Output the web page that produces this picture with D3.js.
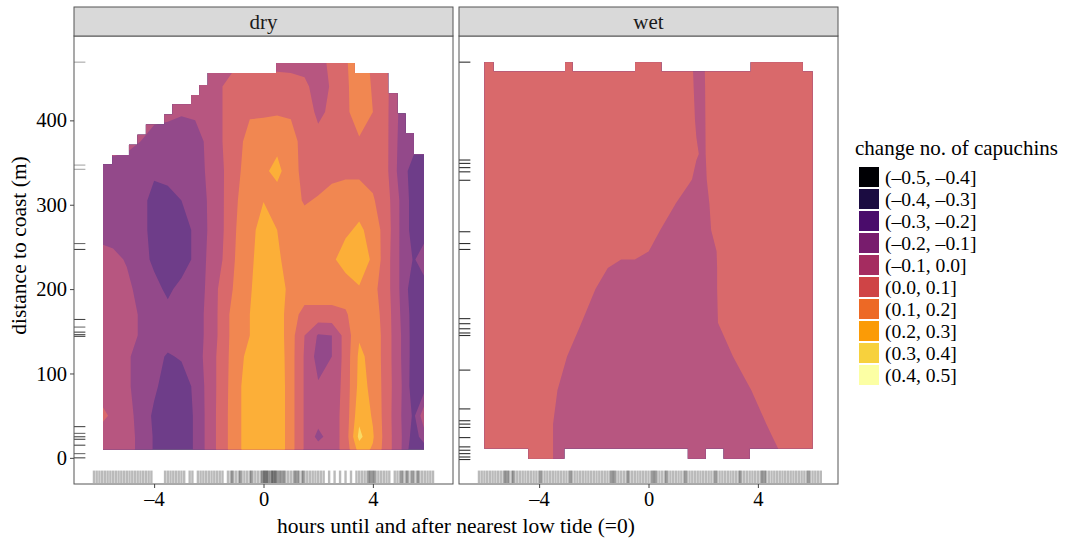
<!DOCTYPE html>
<html>
<head>
<meta charset="utf-8">
<script src="https://cdn.jsdelivr.net/npm/d3@7"></script>
<style>
  html, body { margin: 0; padding: 0; background: #fff; }
  text { font-family: "Liberation Serif", "Times New Roman", serif; }
</style>
</head>
<body>
<svg id="chart" width="1065" height="539"></svg>
<script>
// contour breaks (legend bins)
const breaks = [-0.5, -0.4, -0.3, -0.2, -0.1, 0.0, 0.1, 0.2, 0.3, 0.4, 0.5];

// ---- dry season grid: columns = hours, rows = distance (bottom -> top)
const dryHours = [-5.87, -5.5, -5, -4.5, -4, -3.5, -3, -2.5, -2, -1.5, -1, -0.5, 0, 0.5, 1, 1.5, 2, 2.5, 3, 3.5, 4, 4.5, 5, 5.5, 5.87];
const dryDist = [10, 25, 50, 85, 120, 145, 170, 200, 235, 270, 305, 340, 375, 410, 440, 468];
const dryChange = [
  [-0.05, -0.05, -0.07, -0.12, -0.21, -0.25, -0.25, -0.19, -0.06, 0.055, 0.17, 0.25, 0.27, 0.28, 0.14, -0.01, -0.05, -0.05, 0.04, 0.24, 0.19, 0.05, -0.08, -0.28, -0.25],
  [-0.05, -0.04, -0.07, -0.12, -0.21, -0.25, -0.25, -0.19, -0.06, 0.055, 0.17, 0.25, 0.27, 0.28, 0.14, -0.01, -0.13, -0.05, 0.04, 0.33, 0.21, 0.05, -0.08, -0.25, -0.15],
  [0.02, -0.02, -0.07, -0.13, -0.22, -0.25, -0.25, -0.19, -0.06, 0.055, 0.17, 0.25, 0.27, 0.28, 0.14, -0.01, -0.05, -0.05, 0.04, 0.27, 0.19, 0.05, -0.09, -0.22, -0.03],
  [-0.05, -0.05, -0.08, -0.15, -0.18, -0.25, -0.25, -0.18, -0.06, 0.05, 0.17, 0.25, 0.27, 0.28, 0.14, -0.01, -0.09, -0.07, 0.04, 0.23, 0.18, 0.05, -0.08, -0.26, -0.25],
  [-0.05, -0.05, -0.08, -0.15, -0.17, -0.21, -0.19, -0.15, -0.06, 0.05, 0.16, 0.23, 0.27, 0.27, 0.14, -0.01, -0.14, -0.10, 0.04, 0.22, 0.17, 0.05, -0.09, -0.25, -0.25],
  [-0.05, -0.05, -0.06, -0.11, -0.15, -0.16, -0.16, -0.15, -0.07, 0.04, 0.16, 0.20, 0.26, 0.26, 0.14, 0.00, -0.11, -0.10, 0.04, 0.19, 0.17, 0.05, -0.09, -0.25, -0.25],
  [-0.05, -0.05, -0.06, -0.11, -0.15, -0.17, -0.17, -0.15, -0.07, 0.04, 0.16, 0.20, 0.26, 0.26, 0.14, 0.07, 0.07, 0.07, 0.09, 0.15, 0.15, 0.05, -0.10, -0.25, -0.25],
  [-0.05, -0.05, -0.07, -0.14, -0.17, -0.22, -0.17, -0.15, -0.08, 0.04, 0.12, 0.19, 0.26, 0.25, 0.17, 0.15, 0.15, 0.15, 0.14, 0.19, 0.13, 0.04, -0.11, -0.27, -0.25],
  [-0.06, -0.07, -0.11, -0.16, -0.22, -0.25, -0.25, -0.18, -0.08, 0.00, 0.11, 0.18, 0.25, 0.22, 0.15, 0.15, 0.15, 0.18, 0.25, 0.27, 0.18, 0.04, -0.11, -0.21, -0.14],
  [-0.14, -0.15, -0.16, -0.18, -0.22, -0.25, -0.25, -0.18, -0.09, -0.01, 0.10, 0.17, 0.24, 0.20, 0.15, 0.15, 0.15, 0.16, 0.18, 0.22, 0.16, 0.05, -0.11, -0.25, -0.25],
  [-0.16, -0.16, -0.17, -0.18, -0.22, -0.23, -0.20, -0.16, -0.09, -0.01, 0.09, 0.17, 0.198, 0.15, 0.14, 0.09, 0.11, 0.14, 0.15, 0.15, 0.11, 0.04, -0.11, -0.25, -0.25],
  [-0.15, -0.15, -0.15, -0.16, -0.19, -0.17, -0.16, -0.15, -0.08, -0.01, 0.08, 0.14, 0.18, 0.23, 0.14, 0.07, 0.05, 0.07, 0.08, 0.08, 0.07, 0.02, -0.14, -0.25, -0.25],
  [-0.05, -0.05, -0.07, -0.10, -0.15, -0.16, -0.16, -0.15, -0.07, 0.00, 0.07, 0.13, 0.14, 0.17, 0.13, 0.07, 0.03, 0.06, 0.08, 0.09, 0.09, 0.02, -0.13, -0.16, -0.16],
  [-0.05, -0.05, -0.05, -0.05, -0.06, -0.07, -0.09, -0.08, -0.04, 0.00, 0.05, 0.09, 0.09, 0.09, 0.09, 0.05, -0.02, 0.02, 0.08, 0.15, 0.10, 0.02, -0.12, -0.15, -0.15],
  [-0.05, -0.05, -0.05, -0.05, -0.05, -0.05, -0.05, -0.05, -0.04, 0.00, 0.05, 0.06, 0.06, 0.05, 0.04, 0.02, -0.04, 0.01, 0.08, 0.16, 0.09, 0.01, -0.05, -0.10, -0.10],
  [-0.05, -0.05, -0.05, -0.05, -0.05, -0.05, -0.05, -0.05, -0.05, -0.01, -0.01, -0.01, -0.02, -0.03, -0.03, -0.03, -0.03, 0.02, 0.09, 0.15, 0.08, 0.00, -0.05, -0.10, -0.10]
];
// extent of the dry grid (cells with data)
const dryTopX = [-5.87, -5.53, -4.92, -4.61, -4.3, -3.63, -3.33, -2.65, -2.35, -2.04, 0.46, 3.34, 4.56, 4.9, 5.2, 5.5, 5.87];
const dryTopY = [348, 359, 371, 383, 395, 407, 419, 430, 442, 456, 468, 456, 432, 408, 385, 360];
const dryBottomX = [-5.87, 5.87];
const dryBottomY = [10];

// ---- wet season grid
const wetHours = [-6, -5.5, -5, -4.5, -4, -3.5, -3, -2.5, -2, -1.5, -1, -0.5, 0, 0.5, 1, 1.5, 1.75, 2, 2.25, 2.5, 3, 3.5, 4, 4.5, 5, 5.5, 6];
const wetDist = [-1, 11, 40, 80, 120, 160, 200, 225, 245, 270, 300, 330, 360, 400, 440, 458, 469];
const wetChange = [
  [.05, .05, .05, .05, .05, .001, -.049, -.05, -.05, -.05, -.05, -.05, -.05, -.05, -.05, -.05, -.05, -.05, -.05, -.05, -.05, -.05, -.05, -.024, .026, .05, .05],
  [.05, .05, .05, .05, .05, .001, -.049, -.05, -.05, -.05, -.05, -.05, -.05, -.05, -.05, -.05, -.05, -.05, -.05, -.05, -.05, -.05, -.05, -.024, .026, .05, .05],
  [.05, .05, .05, .05, .05, .001, -.049, -.05, -.05, -.05, -.05, -.05, -.05, -.05, -.05, -.05, -.05, -.05, -.05, -.05, -.05, -.05, -.031, .019, .05, .05, .05],
  [.05, .05, .05, .05, .05, .017, -.033, -.05, -.05, -.05, -.05, -.05, -.05, -.05, -.05, -.05, -.05, -.05, -.05, -.05, -.05, -.026, .024, .05, .05, .05, .05],
  [.05, .05, .05, .05, .05, .05, .002, -.048, -.05, -.05, -.05, -.05, -.05, -.05, -.05, -.05, -.05, -.05, -.05, -.05, -.009, .041, .05, .05, .05, .05, .05],
  [.05, .05, .05, .05, .05, .05, .05, .005, -.045, -.05, -.05, -.05, -.05, -.05, -.05, -.05, -.05, -.05, -.029, -.004, .046, .05, .05, .05, .05, .05, .05],
  [.05, .05, .05, .05, .05, .05, .05, .05, .006, -.044, -.05, -.05, -.05, -.05, -.05, -.05, -.05, -.05, -.026, -.001, .049, .05, .05, .05, .05, .05, .05],
  [.05, .05, .05, .05, .05, .05, .05, .05, .05, .001, -.05, -.05, -.05, -.05, -.05, -.05, -.05, -.05, -.025, -.001, .05, .05, .05, .05, .05, .05, .05],
  [.05, .05, .05, .05, .05, .05, .05, .05, .05, .05, .05, .05, .001, -.05, -.05, -.05, -.05, -.049, -.024, .001, .05, .05, .05, .05, .05, .05, .05],
  [.05, .05, .05, .05, .05, .05, .05, .05, .05, .05, .05, .05, .043, -.007, -.05, -.05, -.05, -.029, -.004, .021, .05, .05, .05, .05, .05, .05, .05],
  [.05, .05, .05, .05, .05, .05, .05, .05, .05, .05, .05, .05, .05, .047, -.003, -.05, -.048, -.023, .002, .027, .05, .05, .05, .05, .05, .05, .05],
  [.05, .05, .05, .05, .05, .05, .05, .05, .05, .05, .05, .05, .05, .05, .05, .009, -.016, -.013, .012, .037, .05, .05, .05, .05, .05, .05, .05],
  [.05, .05, .05, .05, .05, .05, .05, .05, .05, .05, .05, .05, .05, .05, .05, .03, .005, -.009, .016, .041, .05, .05, .05, .05, .05, .05, .05],
  [.05, .05, .05, .05, .05, .05, .05, .05, .05, .05, .05, .05, .05, .05, .05, .02, -.005, -.008, .017, .042, .05, .05, .05, .05, .05, .05, .05],
  [.05, .05, .05, .05, .05, .05, .05, .05, .05, .05, .05, .05, .05, .05, .05, .015, -.01, -.007, .018, .043, .05, .05, .05, .05, .05, .05, .05],
  [.05, .05, .05, .05, .05, .05, .05, .05, .05, .05, .05, .05, .05, .05, .05, .013, -.012, -.006, .019, .044, .05, .05, .05, .05, .05, .05, .05],
  [.05, .05, .05, .05, .05, .05, .05, .05, .05, .05, .05, .05, .05, .05, .05, .013, -.012, -.006, .019, .044, .05, .05, .05, .05, .05, .05, .05]
];
const wetTopX = [-6, -5.67, -3.05, -2.78, -0.49, 0.47, 3.74, 5.64, 6];
const wetTopY = [469, 458, 469, 458, 469, 458, 469, 458];
const wetBottomX = [-6, -4.39, -3.08, 1.44, 2.09, 2.75, 3.7, 6];
const wetBottomY = [11, -1, 11, -1, 11, -1, 11];

// ---- rugs: observed distances (with how many overlap) and observed hours
const dryRugDist = [469, 347, 342, 254, 247, 164, 155, 149, 146, 144, 37, 29, 25, 22, 15, 5, 0];
const dryRugCount = [1, 1, 1, 2, 3, 3, 2, 3, 3, 3, 3, 2, 3, 3, 3, 2, 3];
const wetRugDist = [469, 353, 349, 344, 339, 329, 268, 254, 247, 165, 159, 153, 148, 145, 104, 58, 44, 40, 36, 24, 13, 9, 5, 1, -2];
const wetRugCount = [4, 4, 4, 4, 4, 4, 4, 4, 4, 4, 4, 4, 4, 4, 4, 4, 4, 4, 4, 4, 4, 4, 4, 4, 4];
const dryRugHours = [-6.2, -6.1, -6.0, -5.9, -5.8, -5.7, -5.6, -5.5, -5.4, -5.3, -5.2, -5.1, -5.0, -4.9, -4.8, -4.7, -4.6, -4.5, -4.4, -4.3, -4.2, -4.1, -3.6, -3.5, -3.4, -3.3, -3.2, -3.1, -3.0, -2.9, -2.7, -2.6, -2.4, -2.3, -2.2, -2.1, -2.0, -1.9, -1.8, -1.7, -1.6, -1.5, -1.3, -1.2, -1.1, -1.0, -0.9, -0.8, -0.7, -0.6, -0.5, -0.4, -0.3, -0.2, -0.1, 0.0, 0.1, 0.2, 0.3, 0.4, 0.5, 0.6, 0.7, 0.8, 0.9, 1.0, 1.1, 1.2, 1.3, 1.4, 1.5, 1.6, 1.7, 1.8, 1.9, 2.0, 2.1, 2.2, 2.4, 2.6, 2.8, 3.0, 3.2, 3.4, 3.5, 3.6, 3.7, 3.8, 3.9, 4.0, 4.1, 4.2, 4.3, 4.4, 4.5, 4.6, 4.8, 4.9, 5.0, 5.1, 5.2, 5.3, 5.4, 5.5, 5.6, 5.7, 5.8, 5.9, 6.0, 6.1, 6.2,
  -0.05, 0.05, 0.15, 0.25, 0.35, 0.45, 0.55, 0.65, 0.75, 0.02, 0.12, 0.32, 0.42, 3.85, 3.95, 4.05, 1.25, 1.15, 1.45, -1.15, -0.85, -0.45, 5.05, 5.25, 5.45, 5.65];
const wetRugHours = [-6.2, -6.1, -6.0, -5.9, -5.8, -5.7, -5.6, -5.5, -5.4, -5.3, -5.2, -5.1, -5.0, -4.9, -4.8, -4.7, -4.6, -4.5, -4.4, -4.3, -4.2, -4.1, -4.0, -3.9, -3.8, -3.7, -3.6, -3.5, -3.4, -3.3, -3.2, -3.1, -3.0, -2.9, -2.8, -2.7, -2.6, -2.5, -2.4, -2.3, -2.2, -2.1, -2.0, -1.9, -1.8, -1.7, -1.6, -1.5, -1.4, -1.3, -1.2, -1.1, -1.0, -0.9, -0.8, -0.7, -0.6, -0.5, -0.4, -0.3, -0.2, -0.1, 0.0, 0.1, 0.2, 0.3, 0.4, 0.5, 0.6, 0.7, 0.8, 0.9, 1.0, 1.1, 1.2, 1.3, 1.4, 1.5, 1.6, 1.7, 1.8, 1.9, 2.0, 2.1, 2.2, 2.3, 2.4, 2.5, 2.6, 2.7, 2.8, 2.9, 3.0, 3.1, 3.2, 3.3, 3.4, 3.5, 3.6, 3.7, 3.8, 3.9, 4.0, 4.1, 4.2, 4.3, 4.4, 4.5, 4.6, 4.7, 4.8, 4.9, 5.0, 5.1, 5.2, 5.3, 5.4, 5.5, 5.6, 5.7, 5.8, 5.9, 6.0, 6.1, 6.2, 6.3,
  -5.15, -5.25, -3.95, -2.85, -1.25, -1.35, 0.15, 0.25, 1.35, 2.45, 4.15, 4.25, 5.85, -4.95, -0.75, 0.65, 3.35];

const yTicks = [0, 100, 200, 300, 400];
const xTicks = [-4, 0, 4];

const svg = d3.select("#chart");
const stripTop = 7, panelTop = 36, panelBottom = 484, panelW = 379;
const y = d3.scaleLinear().domain([-31, 500]).range([panelBottom, panelTop]);
const xBase = d3.scaleLinear().domain([-6.93, 6.93]);
const dash = s => s.replace(/[-\u2212]/g, "\u2013");
const fmt1 = d3.format(".1f");

// band colour: inferno with alpha 0.8 over white (flattened so bands don't stack)
const bandColor = i => d3.interpolateRgb("#ffffff", d3.interpolateInferno(i / 9))(0.8);

const panels = [
  { name: "dry", left: 74, hours: dryHours, dist: dryDist, grid: dryChange,
    topX: dryTopX, topY: dryTopY, botX: dryBottomX, botY: dryBottomY,
    rugDist: dryRugDist, rugCount: dryRugCount, rugHours: dryRugHours },
  { name: "wet", left: 459, hours: wetHours, dist: wetDist, grid: wetChange,
    topX: wetTopX, topY: wetTopY, botX: wetBottomX, botY: wetBottomY,
    rugDist: wetRugDist, rugCount: wetRugCount, rugHours: wetRugHours }
];

const defs = svg.append("defs");

panels.forEach(p => {
  const x = xBase.copy().range([p.left, p.left + panelW]);
  const g = svg.append("g");

  // outline of the cells that hold data
  const outline = [];
  p.topX.slice(0, -1).forEach((v, k) => {
    outline.push([v, p.topY[k]], [p.topX[k + 1], p.topY[k]]);
  });
  for (let k = p.botY.length - 1; k >= 0; k--) {
    outline.push([p.botX[k + 1], p.botY[k]], [p.botX[k], p.botY[k]]);
  }
  defs.append("clipPath").attr("id", "clip-" + p.name)
    .append("path")
    .attr("d", d3.line().x(d => x(d[0])).y(d => y(d[1]))(outline) + "Z");

  // filled contours
  const nx = p.hours.length, ny = p.dist.length;
  const gx = d3.scaleLinear().domain(p.hours.map((_, i) => i + 0.5)).range(p.hours);
  const gy = d3.scaleLinear().domain(p.dist.map((_, j) => j + 0.5)).range(p.dist);
  const bands = d3.contours()
    .size([nx, ny])
    .thresholds(breaks.slice(0, -1))(p.grid.flat());
  const proj = d3.geoTransform({
    point(px, py) { this.stream.point(x(gx(px)), y(gy(py))); }
  });
  g.append("g")
    .attr("clip-path", `url(#clip-${p.name})`)
    .selectAll("path")
    .data(bands)
    .join("path")
    .attr("d", d3.geoPath(proj))
    .attr("fill", (d, i) => bandColor(i));

  // rug on the left (distance) and bottom (hours)
  g.append("g").selectAll("line")
    .data(p.rugDist)
    .join("line")
    .attr("x1", p.left).attr("x2", p.left + 0.03 * panelW)
    .attr("y1", d => y(d)).attr("y2", d => y(d))
    .attr("stroke", "#000")
    .attr("stroke-width", 1.1)
    .attr("stroke-opacity", (d, i) => 1 - Math.pow(0.65, p.rugCount[i]));
  g.append("g").selectAll("line")
    .data(p.rugHours)
    .join("line")
    .attr("x1", d => x(d)).attr("x2", d => x(d))
    .attr("y1", panelBottom - 1).attr("y2", panelBottom - 0.03 * (panelBottom - panelTop))
    .attr("stroke", "#000")
    .attr("stroke-width", 2.4)
    .attr("stroke-opacity", 0.27);

  // panel border
  g.append("rect")
    .attr("x", p.left).attr("y", panelTop)
    .attr("width", panelW).attr("height", panelBottom - panelTop)
    .attr("fill", "none").attr("stroke", "#555").attr("stroke-width", 1);

  // strip
  g.append("rect")
    .attr("x", p.left).attr("y", stripTop)
    .attr("width", panelW).attr("height", panelTop - stripTop)
    .attr("fill", "#d9d9d9").attr("stroke", "#555").attr("stroke-width", 1);
  g.append("text")
    .attr("x", p.left + panelW / 2).attr("y", 28.5)
    .attr("text-anchor", "middle")
    .attr("font-size", 21)
    .attr("fill", "#1a1a1a")
    .text(p.name);

  // x axis
  const ax = g.append("g")
    .attr("transform", `translate(0,${panelBottom})`)
    .call(d3.axisBottom(x).tickValues(xTicks).tickSize(4).tickPadding(3)
      .tickFormat(d => dash(String(d))));
  ax.select(".domain").remove();
  ax.selectAll(".tick line").attr("stroke", "#444");
  ax.selectAll("text")
    .attr("font-family", "Liberation Serif")
    .attr("font-size", 20.5)
    .attr("fill", "#000");
});

// y axis (dry panel only)
const ay = svg.append("g")
  .attr("transform", `translate(${panels[0].left},0)`)
  .call(d3.axisLeft(y).tickValues(yTicks).tickSize(4).tickPadding(3));
ay.select(".domain").remove();
ay.selectAll(".tick line").attr("stroke", "#444");
ay.selectAll("text")
  .attr("font-family", "Liberation Serif")
  .attr("font-size", 20.5)
  .attr("fill", "#000");

// axis titles
svg.append("text")
  .attr("x", (74 + 838) / 2).attr("y", 533)
  .attr("text-anchor", "middle")
  .attr("font-size", 21.5)
  .text("hours until and after nearest low tide (=0)");
svg.append("text")
  .attr("transform", `translate(26,${(stripTop + panelBottom) / 2}) rotate(-90)`)
  .attr("text-anchor", "middle")
  .attr("font-size", 21.5)
  .text("distance to coast (m)");

// legend
const legend = svg.append("g").attr("transform", "translate(855,0)");
legend.append("text")
  .attr("x", 0).attr("y", 155)
  .attr("font-size", 21)
  .text("change no. of capuchins");
const keys = legend.selectAll("g.key")
  .data(d3.range(breaks.length - 1))
  .join("g")
  .attr("class", "key")
  .attr("transform", i => `translate(0,${167 + i * 22})`);
keys.append("rect")
  .attr("x", 4).attr("y", 0)
  .attr("width", 20).attr("height", 20)
  .attr("fill", i => d3.interpolateInferno(i / 9));
keys.append("text")
  .attr("x", 30).attr("y", 16.5)
  .attr("font-size", 19.6)
  .text(i => `(${dash(fmt1(breaks[i]))}, ${dash(fmt1(breaks[i + 1]))}]`);
</script>
</body>
</html>
